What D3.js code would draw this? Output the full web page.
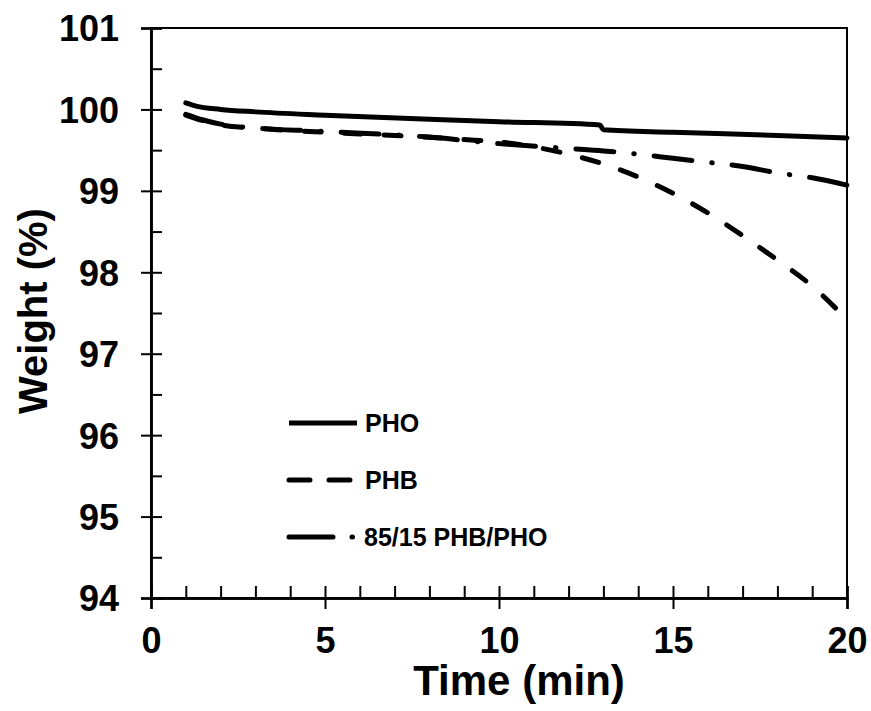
<!DOCTYPE html>
<html lang="en">
  <head>
    <meta charset="UTF-8" />
    <script src="https://d3js.org/d3.v7.min.js"></script>
    <title>Weight vs time</title>
    <style>
      body { margin: 0; background: #fff; }
      text { font-family: Arial, 'Liberation Sans', sans-serif; font-weight: bold; fill: #000; }
    </style>
  </head>
  <body>
    <script>
      // values
      const phoTime = [1, 1.3, 2, 3, 5, 8, 10, 12.9, 13.0, 15, 18, 20]
      const phoWeight = [100.08, 100.04, 100.0, 99.97, 99.93, 99.88, 99.85, 99.81, 99.75, 99.72, 99.68, 99.65]

      const phbTime = [1, 1.5, 2, 3, 5, 7, 9, 10, 11, 12, 13, 14, 15, 16, 17, 18, 19, 20]
      const phbWeight = [99.93, 99.86, 99.81, 99.77, 99.72, 99.68, 99.63, 99.6, 99.54, 99.45, 99.33, 99.17, 98.97, 98.73, 98.45, 98.15, 97.83, 97.42]

      const blendTime = [1, 1.5, 2, 2.5, 5, 8, 10, 12, 13, 14, 15, 16, 17, 18, 19, 20]
      const blendWeight = [99.94, 99.87, 99.82, 99.79, 99.73, 99.66, 99.58, 99.52, 99.49, 99.45, 99.40, 99.35, 99.30, 99.22, 99.16, 99.07]

      const seriesNames = ['PHO', 'PHB', '85/15 PHB/PHO']
      const xTicks = [0, 5, 10, 15, 20]
      const yTicks = [94, 95, 96, 97, 98, 99, 100, 101]

      const width = 871
      const height = 711
      const plotLeft = 151, plotRight = 847, plotTop = 28, plotBottom = 598

      const svg = d3.select('body')
        .append('svg')
        .attr('width', width)
        .attr('height', height)

      const x = d3.scaleLinear().domain([0, 20]).range([plotLeft, plotRight])
      const y = d3.scaleLinear().domain([94, 101]).range([plotBottom, plotTop])

      const dashes = ['none', '17,23', '38,20,0.5,20']

      const series = [
        phoTime.map((t, i) => [t, phoWeight[i]]),
        phbTime.map((t, i) => [t, phbWeight[i]]),
        blendTime.map((t, i) => [t, blendWeight[i]])
      ]

      // frame
      svg.append('rect')
        .attr('x', plotLeft).attr('y', plotTop)
        .attr('width', plotRight - plotLeft).attr('height', plotBottom - plotTop)
        .attr('fill', 'none').attr('stroke', '#000').attr('stroke-width', 2)

      // y axis: labels + outer half of major ticks
      const yAxis = svg.append('g')
        .attr('transform', `translate(${plotLeft},0)`)
        .call(d3.axisLeft(y).tickValues(yTicks).tickSize(10).tickPadding(22).tickFormat(d3.format('d')))
      // inner ticks (major + minor)
      svg.append('g')
        .attr('transform', `translate(${plotLeft},0)`)
        .call(d3.axisRight(y).tickValues(d3.range(94, 101.01, 0.5)).tickSize(11).tickFormat(''))

      const xAxis = svg.append('g')
        .attr('transform', `translate(0,${plotBottom})`)
        .call(d3.axisBottom(x).tickValues(xTicks).tickSize(11).tickPadding(18))
      svg.append('g')
        .attr('transform', `translate(0,${plotBottom})`)
        .call(d3.axisTop(x).tickValues(d3.range(0, 20.01, 1)).tickSize(12).tickFormat(''))

      svg.selectAll('.domain').attr('stroke-width', 2.5)
      svg.selectAll('.tick line').attr('stroke-width', 2)
      svg.selectAll('.tick text')
        .style('font-size', '36px')
        .style('font-family', "Arial, 'Liberation Sans', sans-serif")
        .style('font-weight', 'bold')
      yAxis.selectAll('.tick text').attr('dy', '0.36em')

      const line = d3.line()
        .x(d => x(d[0]))
        .y(d => y(d[1]))
        .curve(d3.curveMonotoneX)

      svg.append('g')
        .selectAll('path')
        .data(series)
        .join('path')
        .attr('d', line)
        .attr('fill', 'none')
        .attr('stroke', '#000')
        .attr('stroke-width', 5)
        .attr('stroke-linecap', 'round')
        .attr('stroke-dasharray', (d, i) => dashes[i])

      // legend
      const legendDash = ['none', '21,19', '44,19,0.5,20']
      const legend = svg.append('g')
        .selectAll('g')
        .data(seriesNames)
        .join('g')
        .attr('transform', (d, i) => `translate(289,${423 + i * 57})`)
      legend.append('line')
        .attr('x1', 0).attr('x2', (d, i) => i === 2 ? 64 : 68)
        .attr('stroke', '#000')
        .attr('stroke-width', 5)
        .attr('stroke-linecap', (d, i) => i === 0 ? 'butt' : 'round')
        .attr('stroke-dasharray', (d, i) => legendDash[i])
      legend.append('text')
        .attr('x', (d, i) => i === 2 ? 75 : 76)
        .attr('dy', '0.36em')
        .style('font-size', '25px')
        .text(d => d)

      svg.append('text')
        .attr('x', 519)
        .attr('y', 695)
        .attr('text-anchor', 'middle')
        .style('font-size', '42px')
        .text('Time (min)')

      svg.append('text')
        .attr('transform', `translate(47,${311}) rotate(-90)`)
        .attr('text-anchor', 'middle')
        .style('font-size', '40px')
        .text('Weight (%)')
    </script>
  </body>
</html>
